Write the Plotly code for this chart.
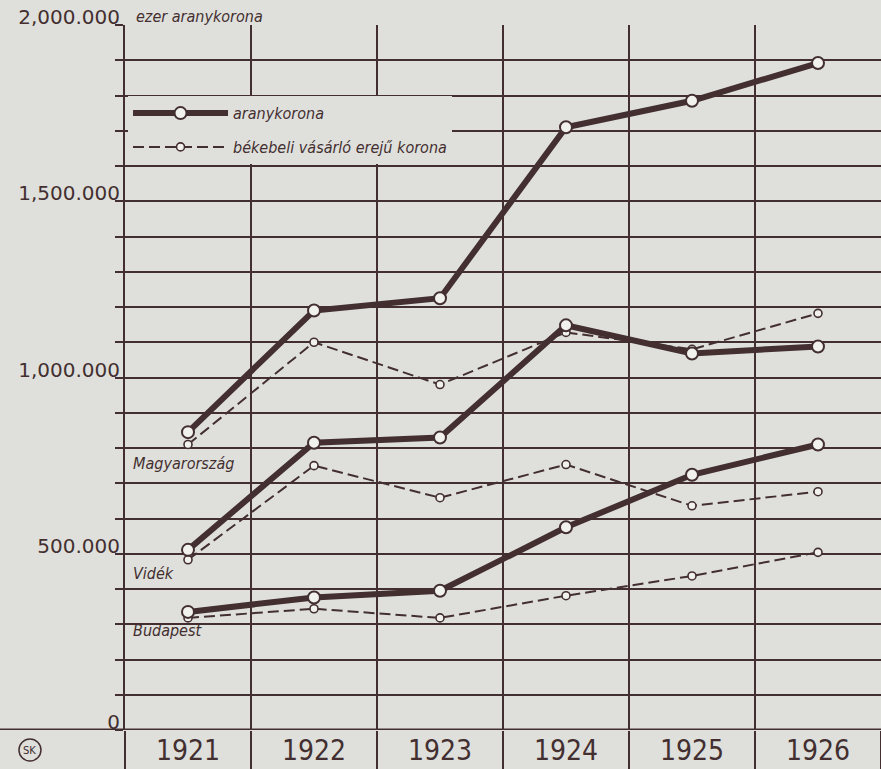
import plotly.graph_objects as go

# ---- data (in ezer aranykorona) ----
years = ["1921", "1922", "1923", "1924", "1925", "1926"]
magyar_arany = [845000, 1190000, 1225000, 1710000, 1785000, 1892000]
magyar_beke = [810000, 1100000, 980000, 1128000, 1080000, 1182000]
videk_arany = [511000, 815000, 830000, 1148000, 1068000, 1088000]
videk_beke = [483000, 750000, 659000, 753000, 636000, 676000]
budapest_arany = [335000, 376000, 395000, 575000, 724000, 810000]
budapest_beke = [318000, 344000, 318000, 381000, 437000, 504000]

y_tickvals = [0, 500000, 1000000, 1500000, 2000000]
y_ticktext = ["0", "500.000", "1,000.000", "1,500.000", "2,000.000"]

region_labels = ["Magyarország", "Vidék", "Budapest"]
region_label_y = [755000, 445000, 282000]

legend_names = ["aranykorona", "békebeli vásárló erejű korona"]

BG = "#dfe0dc"
INK = "#432f30"
FILL = "#f1f1ee"
GW = 2

fig = go.Figure()

dashed_series = [magyar_beke, videk_beke, budapest_beke]
thick_series = [magyar_arany, videk_arany, budapest_arany]

for i, vals in enumerate(dashed_series):
    fig.add_trace(go.Scatter(
        x=years, y=vals, mode="lines+markers",
        name=legend_names[1], legendgroup="b", legendrank=2,
        showlegend=(i == 0),
        line=dict(color=INK, width=2, dash="11px,5px"),
        marker=dict(symbol="circle", size=8, color=FILL,
                    line=dict(color=INK, width=1.6)),
    ))

for i, vals in enumerate(thick_series):
    fig.add_trace(go.Scatter(
        x=years, y=vals, mode="lines+markers",
        name=legend_names[0], legendgroup="a", legendrank=1,
        showlegend=(i == 0),
        line=dict(color=INK, width=6),
        marker=dict(symbol="circle", size=12, color=FILL,
                    line=dict(color=INK, width=2)),
    ))

LABEL_FONT = "DejaVu Sans Condensed, DejaVu Sans"

annotations = []
for lab, yv in zip(region_labels, region_label_y):
    annotations.append(dict(
        x=-0.45, y=yv, xref="x", yref="y", text=lab, showarrow=False,
        xanchor="left", yanchor="middle",
        font=dict(family=LABEL_FONT, size=16, color=INK, style="italic"),
    ))
annotations.append(dict(
    x=0.012, y=1.0, xref="paper", yref="paper", text="ezer aranykorona",
    showarrow=False, xanchor="left", yanchor="bottom", yshift=-3,
    bgcolor="rgba(0,0,0,0)",
    font=dict(family=LABEL_FONT, size=16, color=INK, style="italic"),
))
# monogram
annotations.append(dict(
    x=-0.1257, y=-0.0284, xref="paper", yref="paper", text="SK",
    showarrow=False, xanchor="center", yanchor="middle",
    font=dict(family="DejaVu Sans", size=10, color=INK),
))

shapes = [
    # thick base line, running into the left margin
    dict(type="line", xref="paper", yref="y", x0=-0.1654, x1=1, y0=0, y1=0,
         line=dict(color=INK, width=3), layer="above"),
    dict(type="circle", xref="paper", yref="paper",
         xsizemode="pixel", ysizemode="pixel",
         xanchor=-0.1257, yanchor=-0.0284, x0=-11, x1=11, y0=-11, y1=11,
         line=dict(color=INK, width=1.5)),
]

fig.update_layout(
    width=881, height=769,
    margin=dict(l=125, r=0, t=25, b=39, autoexpand=False),
    paper_bgcolor=BG, plot_bgcolor=BG,
    showlegend=True,
    legend=dict(
        x=0.004, y=0.899, xanchor="left", yanchor="top",
        bgcolor=BG, borderwidth=0, itemwidth=95, tracegroupgap=10,
        traceorder="grouped",
        font=dict(family=LABEL_FONT, size=16, color=INK, style="italic"),
    ),
    xaxis=dict(
        type="category", categoryorder="array", categoryarray=years,
        range=[-0.5, 5.5], tickson="boundaries", automargin=False,
        showgrid=True, gridcolor=INK, gridwidth=GW,
        ticks="outside", ticklen=39, tickwidth=GW, tickcolor=INK,
        ticklabelstandoff=1,
        tickfont=dict(family="DejaVu Sans Condensed, sans-serif",
                      size=28, color=INK),
        showline=False, zeroline=False, fixedrange=True,
    ),
    yaxis=dict(
        range=[0, 2000000], automargin=False,
        tickmode="array", tickvals=y_tickvals, ticktext=y_ticktext,
        showgrid=True, gridcolor=INK, gridwidth=GW,
        ticks="outside", ticklen=8, tickwidth=GW, tickcolor=INK,
        ticklabelstandoff=-9, ticklabelshift=-8,
        minor=dict(dtick=100000, showgrid=True, gridcolor=INK, gridwidth=GW,
                   ticks="outside", ticklen=8, tickwidth=GW, tickcolor=INK),
        tickfont=dict(family="DejaVu Sans", size=20, color=INK),
        showline=True, linecolor=INK, linewidth=2,
        zeroline=False, fixedrange=True,
    ),
    annotations=annotations,
    shapes=shapes,
)

fig.write_html(
    "out.html",
    config={"displayModeBar": False, "staticPlot": True},
    post_script="document.body.style.margin='0';document.body.style.background='%s';" % BG,
)
